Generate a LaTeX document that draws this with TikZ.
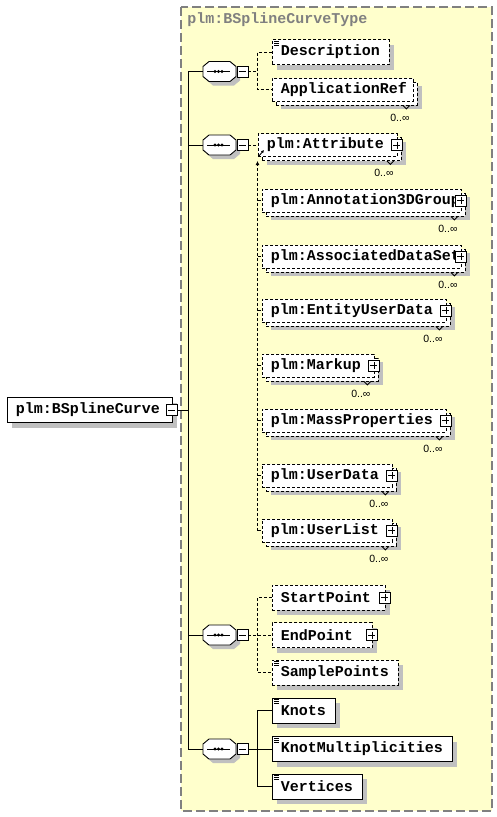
\documentclass[tikz,border=0pt]{standalone}
\usepackage{fontspec}
\usepackage{xcolor}
\usepackage{tikz}
\usetikzlibrary{calc, positioning, shadows, arrows.meta}
\setmainfont{Liberation Sans}
\newfontfamily\xsdfont{Liberation Mono}

\definecolor{typebg}{RGB}{255,255,204}
\definecolor{typeline}{RGB}{128,128,128}
\definecolor{shadowgray}{RGB}{192,192,192}

\begin{document}
\begin{tikzpicture}[x=1pt,y=-1pt,line width=0.9pt,
    dashline/.style={dash pattern=on 3pt off 2pt},
    el node/.style={draw,fill=white,anchor=west,inner xsep=8.5pt,inner ysep=0pt,
      font=\xsdfont\bfseries\fontsize{15}{15}\selectfont},
    single node/.style={el node,minimum height=25pt,
      drop shadow={shadow xshift=5pt,shadow yshift=-5pt,fill=shadowgray,opacity=1,draw=none}},
    opt node/.style={single node,dashline},
    multi node/.style={el node,dashline,minimum height=23pt,
      drop shadow={shadow xshift=9pt,shadow yshift=-8pt,fill=shadowgray,opacity=1,draw=none},
      copy shadow={shadow xshift=4pt,shadow yshift=-4pt,fill=white,draw=black,dashline}},
    text icon/.style={path picture={
      \foreach \k in {1.5,3.5,5.5}
        \draw[solid,line width=0.8pt] ([xshift=2pt,yshift=-\k pt]path picture bounding box.north west) -- ++(5pt,0pt);}},
    plus box/.style={draw,solid,fill=white,minimum size=11pt,inner sep=0pt,line width=0.8pt,
      path picture={\draw[line width=0.8pt]
        ([xshift=2pt]path picture bounding box.west) -- ([xshift=-2pt]path picture bounding box.east)
        ([yshift=-2pt]path picture bounding box.north) -- ([yshift=2pt]path picture bounding box.south);}},
    minus box/.style={draw,solid,fill=white,minimum size=11pt,inner sep=0pt,line width=0.8pt,
      path picture={\draw[line width=0.8pt]
        ([xshift=2pt]path picture bounding box.west) -- ([xshift=-2pt]path picture bounding box.east);}},
    seq node/.style={minimum width=33pt,minimum height=20pt,inner sep=0pt},
    mult/.style={inner sep=0pt,font=\fontsize{10.5}{10.5}\selectfont}]

  \useasboundingbox (0,0) rectangle (497,817);

  % complex type frame
  \draw[typeline,fill=typebg,line width=1.2pt,dash pattern=on 9pt off 4pt] (181,7) rectangle (492,811);
  \node[anchor=west,inner sep=0pt,text=typeline,font=\xsdfont\bfseries\fontsize{15}{15}\selectfont]
    (type) at (187,20) {plm:BSplineCurveType};

  % root element
  \node[single node,text width=148pt] (root) at (7,410) {plm:BSplineCurve};
  \node[minus box] (rootm) at ([xshift=-1pt]root.east) {};
  \coordinate (trunk) at (188,410);

  % sequences
  \foreach \i/\y in {1/71.5,2/145,3/635,4/749} {
    \node[seq node] (seq\i) at (219.5,\y) {};
    \draw[fill=white,drop shadow={shadow xshift=4pt,shadow yshift=-4pt,fill=shadowgray,opacity=1,draw=none}]
      ([shift={(-16.5,-5)}]seq\i.center) -- ++(6,-5) -- ++(21,0) -- ++(6,5) -- ++(0,10)
      -- ++(-6,5) -- ++(-21,0) -- ++(-6,-5) -- cycle;
    \node[minus box] (seqm\i) at (242.5,\y) {};
    \draw ([xshift=-12.5pt]seq\i.center) -- ([xshift=10pt]seq\i.center);
    \foreach \dx in {-4.5,-1,2.5}
      \fill ([xshift=\dx pt]seq\i.center) circle (1.6pt);
  }

  % first sequence
  \node[opt node,text icon,text width=100pt] (desc) at (272,52) {Description};
  \node[multi node,text width=124pt] (appref) at (272,89.5) {ApplicationRef};

  % substitution group
  \node[multi node,text width=122pt] (attr) at (258,145) {plm:Attribute};
  \node[multi node,text width=182pt] (anno) at (262,200.5) {plm:Annotation3DGroup};
  \node[multi node,text width=182pt] (assoc) at (262,256.5) {plm:AssociatedDataSet};
  \node[multi node,text width=167pt] (eud) at (262,310.5) {plm:EntityUserData};
  \node[multi node,text width=95pt] (markup) at (262,365.5) {plm:Markup};
  \node[multi node,text width=167pt] (mass) at (262,420.5) {plm:MassProperties};
  \node[multi node,text width=113pt] (udata) at (262,475.5) {plm:UserData};
  \node[multi node,text width=113pt] (ulist) at (262,530.5) {plm:UserList};

  % third sequence
  \node[opt node,text width=96pt] (startp) at (272,597.5) {StartPoint};
  \node[opt node,text width=83pt] (endp) at (272,635) {EndPoint};
  \node[opt node,text icon,text width=109pt] (samplep) at (272,672.5) {SamplePoints};

  % fourth sequence
  \node[single node,text icon,text width=46pt] (knots) at (272,710.5) {Knots};
  \node[single node,text icon,text width=163pt] (knotm) at (272,749) {KnotMultiplicities};
  \node[single node,text icon,text width=73pt] (vert) at (272,786.5) {Vertices};

  \foreach \n in {attr,anno,assoc,eud,markup,mass,udata,ulist,startp,endp}
    \node[plus box] (\n-p) at ([xshift=-1pt]\n.east) {};

  \foreach \n in {appref,attr,anno,assoc,eud,markup,mass,udata,ulist} {
    \draw ([shift={(-11,4)}]\n.south east) -- ++(3.5,3.5) -- ++(3.5,-3.5);
    \node[mult] (\n-m) at ([shift={(-14,16)}]\n.south east) {0..∞};
  }

  % connectors
  \draw (rootm.east) -- (trunk);
  \draw (seq1.west -| trunk) -- (seq4.west -| trunk);
  \foreach \i in {1,...,4}
    \draw (seq\i.west) -- (seq\i.west -| trunk);

  \coordinate (fork1) at (257.5,71.5);
  \draw[dashline] (seqm1.east) -- (fork1);
  \draw[dashline] (desc.west) -| (fork1) |- (appref.west);

  \coordinate (fork2) at (257.5,161);
  \draw[dashline] (seqm2.east) -- (attr.west);
  \draw[dashline,-{Latex[length=4pt,width=4pt]}] (fork2 |- ulist.west) -- (fork2);
  \foreach \n in {anno,assoc,eud,markup,mass,udata,ulist}
    \draw[dashline] (fork2 |- \n.west) -- (\n.west);
  \draw[-{Latex[length=3pt,width=3pt]}] ([shift={(1,-1)}]attr.south west) -- ++(5,-6);

  \coordinate (fork3) at (257.5,635);
  \draw[dashline] (seqm3.east) -- (endp.west);
  \draw[dashline] (startp.west) -| (fork3) |- (samplep.west);

  \coordinate (fork4) at (257.5,749);
  \draw (seqm4.east) -- (knotm.west);
  \draw (knots.west) -| (fork4) |- (vert.west);

\end{tikzpicture}
\end{document}
